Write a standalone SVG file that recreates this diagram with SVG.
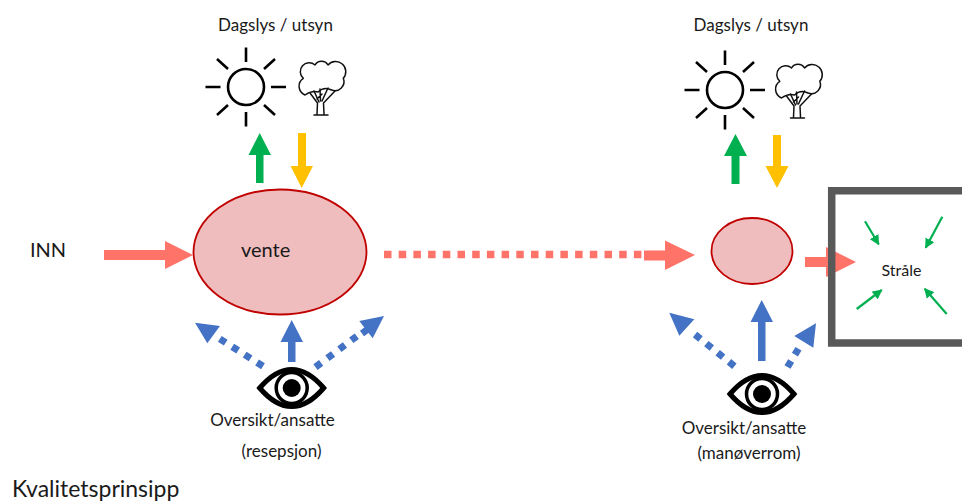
<svg xmlns="http://www.w3.org/2000/svg" xmlns:xlink="http://www.w3.org/1999/xlink" width="962" height="501" viewBox="0 0 962 501">
<style>
text{font-family:"Lato","Carlito","Liberation Sans",sans-serif;fill:#1a1a1a}
.lbl{font-size:17px;text-anchor:middle}
.red{fill:#ff7369}.blue{fill:#4472c4}.green{fill:#00b050}.yellow{fill:#ffc000}
.dotblue{stroke:#4472c4;stroke-width:7;fill:none}
.dotred{stroke:#ff7369;stroke-width:7.5;fill:none;stroke-dasharray:7.5 7.2}
.thin{stroke:#00b050;stroke-width:2.2;fill:none}
.oval{fill:#efbdbd;stroke:#c00000;stroke-width:1.8}
</style>
<defs>
<g id="sun" fill="none" stroke="#000">
<circle r="18" stroke-width="2.6"/>
<path stroke-width="2.6" d="M0,-39.5V-25M0,25V39.5M-40.5,0H-25.5M25,0H40M-29,-28L-18,-18M18,-18L29,-28M-29,28L-18,18M18,18L29,28"/>
</g>
<g id="tree" fill="none" stroke="#111" stroke-width="1.5" stroke-linejoin="round" stroke-linecap="round">
<path fill="#fff" d="M305,95A9.5,9.5 0 0 1 303.3,78.3A8,8 0 0 1 315,65A7.5,7.5 0 0 1 328,65A10,10 0 0 1 343.3,78.3A9,9 0 0 1 331.7,90Q324,86 318,92Q312,90 305,95Z"/>
<path d="M314,115H328M317,114L317.500,103L310,93M324,114L323.500,103L335,91M319,102L314,91M320.500,101L320,89M322,101L328,88M317,99L322,94"/>
</g>
<g id="eye">
<path fill="#fff" stroke="#000" stroke-width="5" d="M-32,0C-20,-14 -10,-18.500 0,-18.500C10,-18.500 20,-14 32,0C20,14 10,18.500 0,18.500C-10,18.500 -20,14 -32,0Z"/>
<circle r="15.500" fill="#fff" stroke="#000" stroke-width="3.500"/>
<circle r="9" fill="#000"/>
</g>
<marker id="g" viewBox="0 0 10 10" refX="9" refY="5" markerWidth="4.500" markerHeight="5" orient="auto" markerUnits="strokeWidth"><path d="M0,0L10,5L0,10Z" fill="#00b050"/></marker>
</defs>
<g id="connectors">
<polygon class="red" points="104,250 165,250 165,241 193,255 165,269 165,260 104,260"/>
<path class="dotred" d="M384,254.500H644"/>
<polygon class="red" points="644,250.500 665,250.500 665,240.500 695,255 665,270 665,260.500 644,260.500"/>
<polygon class="red" points="805,257 826,257 826,247 856,262 826,277 826,267 805,267"/>
<polygon class="green" points="256,183 256,155 248.500,155 259.700,133 271,155 263.500,155 263.500,183"/>
<polygon class="yellow" points="298,133 306,133 306,166 313,166 301.700,188 290.500,166 298,166"/>
<polygon class="green" points="731.500,184 731.500,156 724,156 735.500,134 747,156 739.500,156 739.500,184"/>
<polygon class="yellow" points="773,135 781,135 781,166 788.500,166 777,188 765.500,166 773,166"/>
<polygon class="blue" points="288,362 288,342 280.500,342 291.700,320 303,342 295.500,342 295.500,362"/>
<path class="dotblue" stroke-dasharray="7 7.700" d="M263,366.200L219.700,338.800"/>
<polygon class="blue" points="195,322.700 220,326 207.300,343.300"/>
<path class="dotblue" stroke-dasharray="7 7.900" d="M315.500,367.100L356.800,336.200"/>
<polygon class="blue" points="384,316 359.300,321 372.700,338.300"/>
<path class="dotblue" d="M362,333.500L367,329.800"/>
<polygon class="blue" points="758,361 758,322 750.500,322 761.700,300 773,322 765.500,322 765.500,361"/>
<path class="dotblue" stroke-dasharray="7 7.500" d="M734.400,366.200L695,334.500"/>
<polygon class="blue" points="669.300,312.700 694.300,319.300 679.300,335.700"/>
<path class="dotblue" stroke-dasharray="7 7.400" d="M787.500,367L798.500,348.700"/>
<polygon class="blue" points="816,323.300 794.300,336 813.300,347.700"/>
<path class="thin" marker-end="url(#g)" d="M865,221.300L878.700,244.300"/>
<path class="thin" marker-end="url(#g)" d="M942.300,216.700L925.700,247.700"/>
<path class="thin" marker-end="url(#g)" d="M856.700,309L881.700,290"/>
<path class="thin" marker-end="url(#g)" d="M946.700,314L924.700,288.700"/>
</g>
<g id="inn"><text x="30" y="257" font-size="20">INN</text></g>
<g id="dagslys-1">
<text class="lbl" x="275.500" y="31">Dagslys / utsyn</text>
<use href="#sun" x="246" y="87"/><use href="#tree"/>
</g>
<g id="dagslys-2">
<text class="lbl" x="751" y="31">Dagslys / utsyn</text>
<use href="#sun" x="725" y="90"/><use href="#tree" x="476.500" y="3"/>
</g>
<g id="vente">
<ellipse class="oval" cx="280" cy="252" rx="86.500" ry="62.500"/>
<text x="241" y="257" font-size="20">vente</text>
</g>
<g id="oval-2"><ellipse class="oval" cx="752" cy="251" rx="40.500" ry="33"/></g>
<g id="straale">
<path fill="none" stroke="#595959" stroke-width="7.500" d="M970,190.700H831.700V343H970"/>
<text class="lbl" x="901.500" y="276" style="font-size:16px">Stråle</text>
</g>
<g id="oversikt-1">
<use href="#eye" x="291.700" y="388"/>
<text class="lbl" x="272.500" y="426">Oversikt/ansatte</text>
<text class="lbl" x="281.500" y="457">(resepsjon)</text>
</g>
<g id="oversikt-2">
<use href="#eye" x="762" y="394"/>
<text class="lbl" x="744" y="434">Oversikt/ansatte</text>
<text class="lbl" x="749" y="459">(manøverrom)</text>
</g>
<g id="kvalitet"><text x="12" y="497" font-size="23">Kvalitetsprinsipp</text></g>
</svg>
